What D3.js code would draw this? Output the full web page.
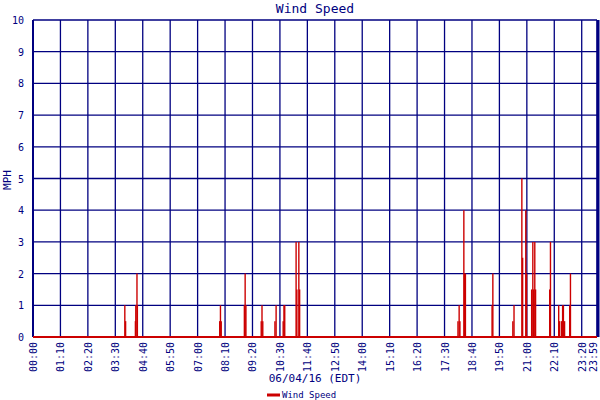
<!DOCTYPE html>
<html><head><meta charset="utf-8">
<script src="https://cdn.jsdelivr.net/npm/d3@7"></script>
<style>body{margin:0;background:#fff}text{font-family:"DejaVu Sans Mono",monospace}</style>
</head><body><svg id="c" width="600" height="400"></svg>
<script>
const times = [233,235,260,261,264,265,475,477,479,538,540,542,581,583,585,616,619,637,639,641,670,672,677,679,
  1083,1086,1088,1098,1100,1102,1170,1172,1223,1226,1246,1248,1256,1258,1271,1274,1276,1279,1281,1317,1319,
  1340,1342,1347,1350,1352,1355,1368,1370];
const speeds = [1,0.5,0.5,1,2,1,0.5,1,0.5,1,2,1,0.5,1,0.5,0.5,1,0.5,1,1,3,1.5,3,1.5,
  0.5,1,0.5,4,2,2,1,2,0.5,1,5,2.5,4,2,1.5,3,1.5,3,1.5,1.5,3,
  1,0.5,0.5,1,1,0.5,1,2];
const xTickMinutes = [0,70,140,210,280,350,420,490,560,630,700,770,840,910,980,1050,1120,1190,1260,1330,1400,1439];
const xTickLabels = ["00:00","01:10","02:20","03:30","04:40","05:50","07:00","08:10","09:20","10:30","11:40","12:50","14:00","15:10","16:20","17:30","18:40","19:50","21:00","22:10","23:20","23:59"];
const yTicks = [0,1,2,3,4,5,6,7,8,9,10];

const navy="#000080", red="#cc0000";
const svg=d3.select("#c");
const x=d3.scaleLinear().domain([0,1439]).range([33,597]);
const y=d3.scaleLinear().domain([0,10]).range([337,20]);
const g=svg.append("g");
g.selectAll(".vg").data(xTickMinutes).join("line").attr("x1",d=>x(d)).attr("x2",d=>x(d))
 .attr("y1",y(0)).attr("y2",y(10)).attr("stroke",navy).attr("stroke-width",1.3);
g.selectAll(".hg").data(yTicks).join("line").attr("x1",x(0)).attr("x2",x(1439))
 .attr("y1",d=>y(d)).attr("y2",d=>y(d)).attr("stroke",navy).attr("stroke-width",1.3);
g.append("line").attr("x1",x(0)).attr("x2",x(0)).attr("y1",y(0)).attr("y2",y(10)).attr("stroke",navy).attr("stroke-width",2);
g.append("line").attr("x1",x(1439)+1).attr("x2",x(1439)+1).attr("y1",y(0)).attr("y2",y(10)).attr("stroke",navy).attr("stroke-width",3);
g.append("line").attr("x1",x(0)).attr("x2",x(1439)).attr("y1",y(0)).attr("y2",y(0)).attr("stroke",red).attr("stroke-width",2);
g.selectAll(".sp").data(times).join("line").attr("x1",d=>x(d)+0.5).attr("x2",d=>x(d)+0.5)
 .attr("y1",y(0)).attr("y2",(d,i)=>y(speeds[i])).attr("stroke",red).attr("stroke-width",1.4);
g.selectAll(".yl").data(yTicks).join("text").attr("x",24).attr("y",d=>y(d)+4).attr("text-anchor","end")
 .attr("font-size",10).attr("fill",navy).text(d=>d);
g.selectAll(".xl").data(xTickMinutes).join("text")
 .attr("transform",d=>`translate(${Math.min(x(d)+4,597)},342) rotate(-90)`).attr("text-anchor","end")
 .attr("font-size",10).attr("fill",navy).text((d,i)=>xTickLabels[i]);
svg.append("text").attr("x",315).attr("y",13).attr("text-anchor","middle").attr("font-size",13).attr("fill",navy).text("Wind Speed");
svg.append("text").attr("x",315).attr("y",382).attr("text-anchor","middle").attr("font-size",11).attr("fill",navy).text("06/04/16 (EDT)");
svg.append("text").attr("transform","translate(11,180) rotate(-90)").attr("text-anchor","middle").attr("font-size",11).attr("fill",navy).text("MPH");
svg.append("line").attr("x1",267).attr("x2",280).attr("y1",395).attr("y2",395).attr("stroke",red).attr("stroke-width",3);
svg.append("text").attr("x",282).attr("y",398).attr("font-size",9).attr("fill",navy).text("Wind Speed");
</script></body></html>
